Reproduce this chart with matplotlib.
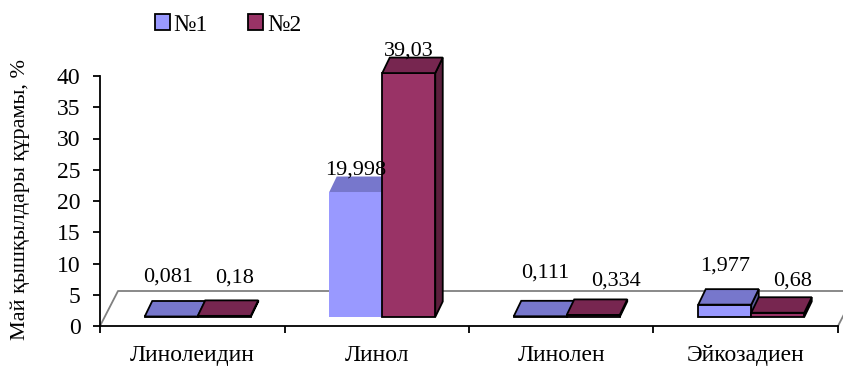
import matplotlib
matplotlib.use("Agg")
import matplotlib.pyplot as plt
from matplotlib.patches import Polygon, Patch

plt.rcParams['font.family'] = ['Liberation Serif', 'DejaVu Serif']

# --> data
categories = ['Линолеидин', 'Линол', 'Линолен', 'Эйкозадиен']
series_names = ['№1', '№2']
values_1 = [0.081, 19.998, 0.111, 1.977]
values_2 = [0.18, 39.03, 0.334, 0.68]
labels_1 = ['0,081', '19,998', '0,111', '1,977']
labels_2 = ['0,18', '39,03', '0,334', '0,68']

# --> styles: front, top, side colours of each series
colors_1 = ('#9999FF', '#7777CC', '#5C5C99')
colors_2 = ('#993366', '#772650', '#5C1F3D')
# label offsets (pixels) from the front-top centre of each bar
label_off_1 = [(-3, 39), (0, 22), (5, 43), (0, 39)]
label_off_2 = [(10, 38), (0, 22), (23, 34), (15, 32)]

W, H = 843, 367
px_x = 184.5   # pixels per category
px_y = 6.25    # pixels per percent

fig = plt.figure(figsize=(W / 100, H / 100), dpi=100)
ax = fig.add_axes([100 / W, (H - 326) / H, 738 / W, 250 / H])
ax.set_xlim(0, 4)
ax.set_ylim(0, 40)

# 3d geometry in data units
floor_dx, floor_dy = 18 / px_x, 35 / px_y
base_dx, base_dy = 5.5 / px_x, 9 / px_y
depth_dx, depth_dy = 7.5 / px_x, 15.5 / px_y
bar_w = 53 / px_x

# floor outline
ax.plot([0, floor_dx, 4 + floor_dx, 4], [0, floor_dy, floor_dy, 0],
        color='#808080', lw=1.3, clip_on=False, zorder=1)


def draw_bar(x0, h, cols, edge=True):
    y0 = base_dy
    x1 = x0 + bar_w
    y1 = y0 + h
    ec = 'black' if edge else 'none'
    front = [(x0, y0), (x1, y0), (x1, y1), (x0, y1)]
    top = [(x0, y1), (x1, y1), (x1 + depth_dx, y1 + depth_dy), (x0 + depth_dx, y1 + depth_dy)]
    side = [(x1, y0), (x1 + depth_dx, y0 + depth_dy), (x1 + depth_dx, y1 + depth_dy), (x1, y1)]
    for pts, c in ((side, cols[2]), (front, cols[0]), (top, cols[1])):
        ax.add_patch(Polygon(pts, closed=True, facecolor=c, edgecolor=ec,
                             lw=1.3, joinstyle='miter', clip_on=False, zorder=3))
    return x0 + bar_w / 2, y1


for i in range(len(categories)):
    left = i + 0.5 + base_dx - bar_w
    cx1, top1 = draw_bar(left, values_1[i], colors_1, edge=(i != 1))
    cx2, top2 = draw_bar(left + bar_w, values_2[i], colors_2)
    for cx, ty, lab, off in ((cx1, top1, labels_1[i], label_off_1[i]),
                             (cx2, top2, labels_2[i], label_off_2[i])):
        ax.annotate(lab, (cx, ty), xytext=off, textcoords='offset pixels',
                    ha='center', va='center', fontsize=16, zorder=5,
                    annotation_clip=False)

# --> axes
for s in ('top', 'right'):
    ax.spines[s].set_visible(False)
for s in ('left', 'bottom'):
    ax.spines[s].set_linewidth(1.3)
ax.set_yticks(range(0, 41, 5))
ax.tick_params(axis='y', length=5, width=1.3, pad=9, labelsize=17)
ax.set_xticks(range(5))
ax.set_xticklabels([])
ax.tick_params(axis='x', which='major', length=5, width=1.3)
ax.set_xticks([i + 0.5 for i in range(4)], minor=True)
ax.set_xticklabels(categories, minor=True)
ax.tick_params(axis='x', which='minor', length=0, pad=14, labelsize=17)

fig.text(20 / W, 1 - 199 / H, 'Май қышқылдары құрамы, %', rotation=90,
         ha='center', va='center', fontsize=16)

handles = [Patch(facecolor=colors_1[0], edgecolor='black', lw=1.3),
           Patch(facecolor=colors_2[0], edgecolor='black', lw=1.3)]
fig.legend(handles, series_names, loc='center', bbox_to_anchor=(228 / W, 1 - 25 / H),
           ncol=2, frameon=False, fontsize=17, handlelength=0.65, handleheight=0.65,
           handletextpad=0.15, columnspacing=1.7)

fig.savefig('out.png', dpi=100)
